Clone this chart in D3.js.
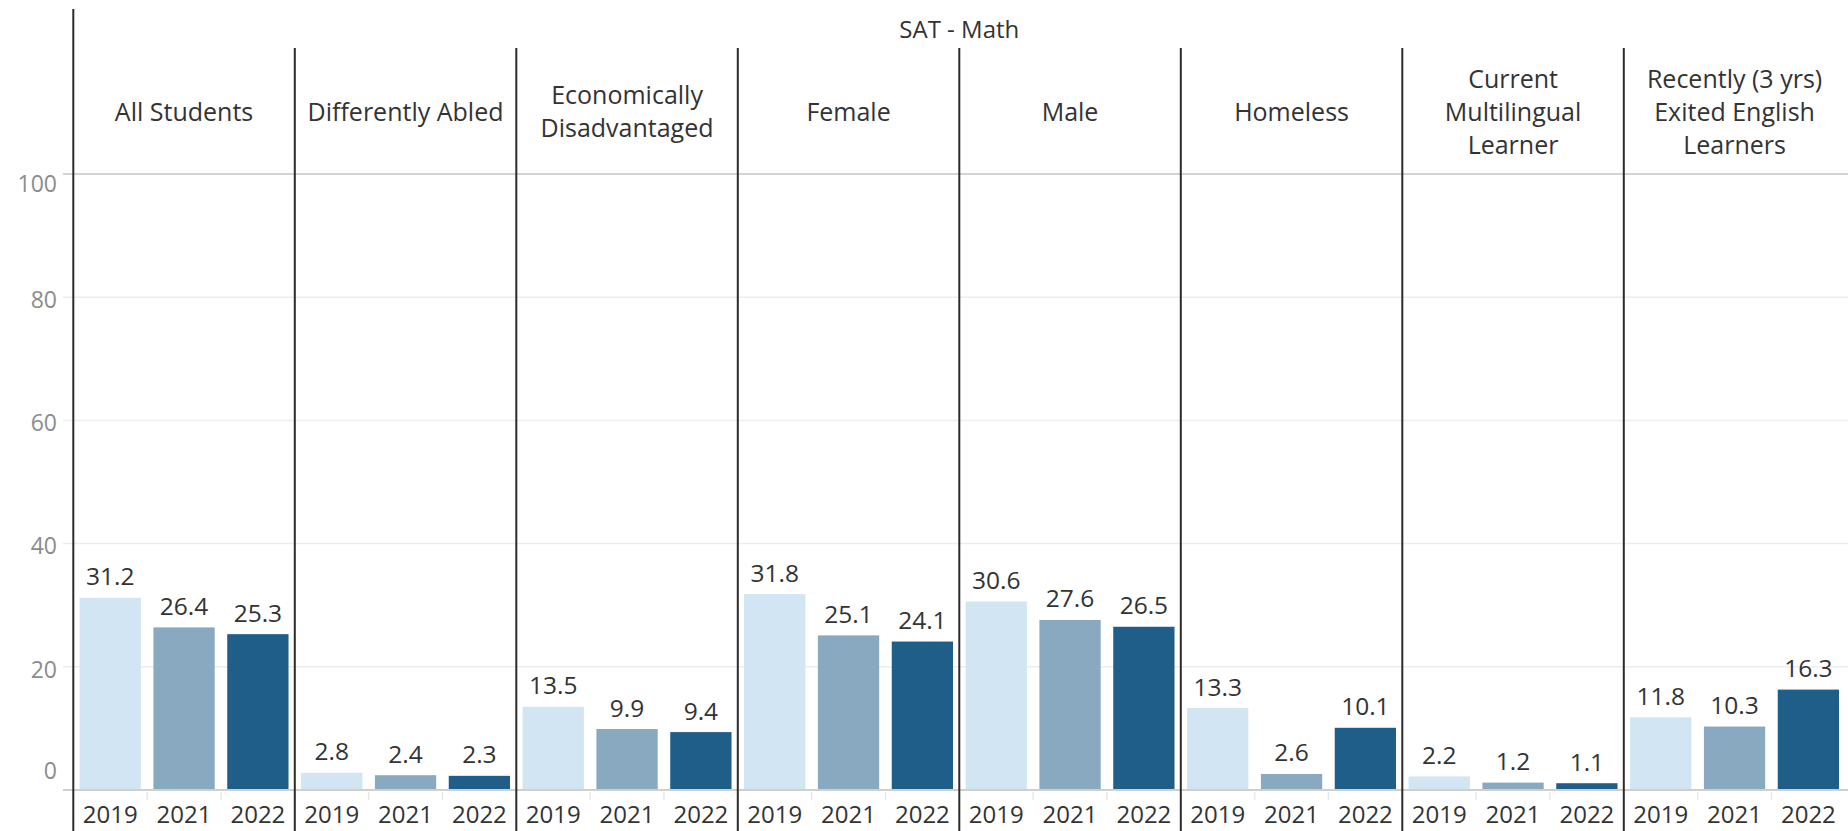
<!DOCTYPE html>
<html>
<head>
<meta charset="utf-8">
<script src="https://cdn.jsdelivr.net/npm/d3@7"></script>
<style>
  html, body { margin: 0; padding: 0; background: #fff; }
  svg { display: block; font-family: "Open Sans", sans-serif; }
</style>
</head>
<body>
<div id="chart"></div>
<script>
"use strict";

/* global d3 */

const title = 'SAT - Math';
const groups = ['All Students', 'Differently Abled', 'Economically Disadvantaged', 'Female',
  'Male', 'Homeless', 'Current Multilingual Learner', 'Recently (3 yrs) Exited English Learners'];
const groupLines = [
  ['All Students'],
  ['Differently Abled'],
  ['Economically', 'Disadvantaged'],
  ['Female'],
  ['Male'],
  ['Homeless'],
  ['Current', 'Multilingual', 'Learner'],
  ['Recently (3 yrs)', 'Exited English', 'Learners']
];
const years = ['2019', '2021', '2022'];
const values2019 = [31.2, 2.8, 13.5, 31.8, 30.6, 13.3, 2.2, 11.8];
const values2021 = [26.4, 2.4, 9.9, 25.1, 27.6, 2.6, 1.2, 10.3];
const values2022 = [25.3, 2.3, 9.4, 24.1, 26.5, 10.1, 1.1, 16.3];
const yTicks = [0, 20, 40, 60, 80, 100];
const colors = ['#d1e5f2', '#88a9bf', '#1f5e89'];

const width = 1848;
const height = 831;
const plotLeft = 73.3;
const plotRight = 1845.3;
const plotTop = 174;
const plotBottom = 790;

let series = [values2019, values2021, values2022];

let svg = d3.select('#chart')
  .append('svg')
  .attr('width', width)
  .attr('height', height);

let x = d3.scaleBand()
  .domain(groups)
  .range([plotLeft, plotRight])
  .padding(0);

let xYear = d3.scaleBand()
  .domain(years)
  .range([0, x.bandwidth()])
  .paddingInner(0.17)
  .paddingOuter(0.085);

let y = d3.scaleLinear()
  .domain([0, 100])
  .range([plotBottom, plotTop]);

// gridlines
svg.append('g')
  .selectAll('line')
  .data(yTicks.filter(t => t > 0 && t < 100))
  .join('line')
  .attr('x1', 63).attr('x2', width)
  .attr('y1', d => y(d)).attr('y2', d => y(d))
  .attr('stroke', '#ededed')
  .attr('stroke-width', 1.5);

// y axis labels
let yAxis = svg.append('g')
  .attr('transform', 'translate(57, 0)')
  .call(d3.axisLeft(y).tickValues(yTicks).tickSize(0).tickPadding(0));
yAxis.select('.domain').remove();
yAxis.selectAll('text')
  .attr('font-family', '"Open Sans", sans-serif')
  .attr('font-size', 23)
  .attr('fill', '#8c8c8c')
  .attr('dy', d => d === 100 ? '0.75em' : (d === 0 ? '-0.5em' : '0.45em'));

// bars and labels per group
groups.forEach((g, gi) => {
  let panel = svg.append('g')
    .attr('transform', 'translate(' + x(g) + ', 0)');

  let rows = years.map((yr, i) => ({ year: yr, value: series[i][gi], color: colors[i] }));

  panel.selectAll('rect')
    .data(rows)
    .join('rect')
    .attr('x', d => xYear(d.year))
    .attr('width', xYear.bandwidth())
    .attr('y', d => y(d.value))
    .attr('height', d => y(0) - y(d.value))
    .attr('fill', d => d.color);

  panel.selectAll('text.val')
    .data(rows)
    .join('text')
    .attr('class', 'val')
    .attr('x', d => xYear(d.year) + xYear.bandwidth() / 2)
    .attr('y', d => y(d.value) - 12.5)
    .attr('text-anchor', 'middle')
    .attr('font-size', 24.5)
    .attr('fill', '#333')
    .text(d => d.value.toFixed(1));

  // year axis
  let xAxis = panel.append('g')
    .attr('transform', 'translate(0, ' + plotBottom + ')')
    .call(d3.axisBottom(xYear).tickSize(0).tickPadding(0));
  xAxis.select('.domain').remove();
  xAxis.selectAll('text')
    .attr('font-family', '"Open Sans", sans-serif')
    .attr('font-size', 24)
    .attr('fill', '#333')
    .attr('dy', '1.38em');

  // faint separators between years
  panel.selectAll('line.sep')
    .data(years.slice(1))
    .join('line')
    .attr('class', 'sep')
    .attr('x1', d => xYear(d) - xYear.step() * xYear.paddingInner() / 2)
    .attr('x2', d => xYear(d) - xYear.step() * xYear.paddingInner() / 2)
    .attr('y1', plotBottom + 2).attr('y2', plotBottom + 10)
    .attr('stroke', '#e8e8e8')
    .attr('stroke-width', 1.5);

  // header text
  let lines = groupLines[gi];
  let lineH = 33;
  panel.append('text')
    .attr('text-anchor', 'middle')
    .attr('font-size', 25)
    .attr('fill', '#333')
    .selectAll('tspan')
    .data(lines)
    .join('tspan')
    .attr('x', x.bandwidth() / 2)
    .attr('y', (d, i) => 120.5 - (lines.length - 1) * lineH / 2 + i * lineH)
    .text(d => d);
});

// header bottom line and baseline
svg.append('line')
  .attr('x1', 63).attr('x2', width)
  .attr('y1', plotTop).attr('y2', plotTop)
  .attr('stroke', '#d4d4d4')
  .attr('stroke-width', 2);

svg.append('line')
  .attr('x1', 63).attr('x2', width)
  .attr('y1', plotBottom).attr('y2', plotBottom)
  .attr('stroke', '#cfcfcf')
  .attr('stroke-width', 2);

// panel dividers
svg.append('g')
  .selectAll('line')
  .data(groups.slice(1))
  .join('line')
  .attr('x1', d => x(d)).attr('x2', d => x(d))
  .attr('y1', 48).attr('y2', height)
  .attr('stroke', '#2b2b2b')
  .attr('stroke-width', 2);

// left frame line
svg.append('line')
  .attr('x1', plotLeft).attr('x2', plotLeft)
  .attr('y1', 9).attr('y2', height)
  .attr('stroke', '#2b2b2b')
  .attr('stroke-width', 2);

// title
svg.append('text')
  .attr('x', (plotLeft + plotRight) / 2)
  .attr('y', 38)
  .attr('text-anchor', 'middle')
  .attr('font-size', 24)
  .attr('fill', '#333')
  .text(title);
</script>
</body>
</html>
